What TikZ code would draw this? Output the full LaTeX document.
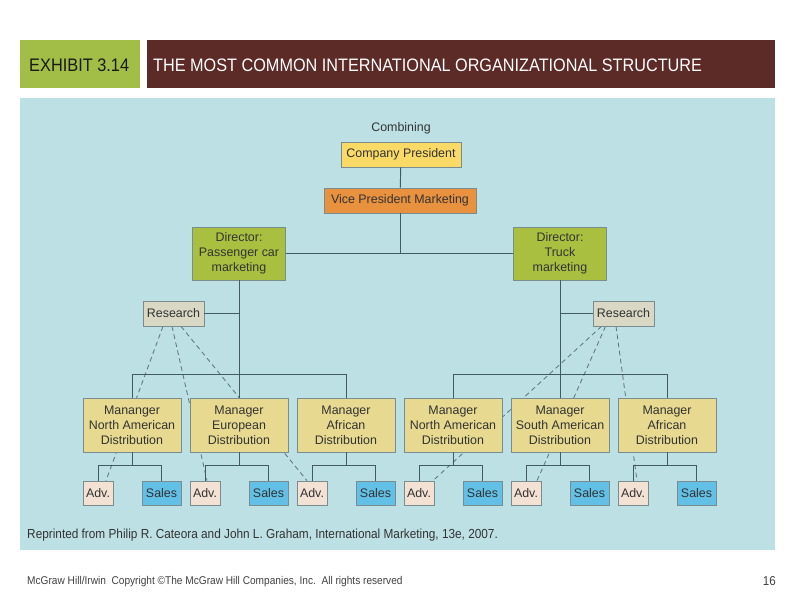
\documentclass[tikz,border=0pt]{standalone}
\usepackage{fontspec}
\setmainfont{Liberation Sans}
\newfontfamily\narrowfont[FakeStretch=0.9]{Liberation Sans}
\usetikzlibrary{positioning, calc}
\definecolor{panelblue}{HTML}{BCE0E3}
\definecolor{exhgreen}{HTML}{A2BE46}
\definecolor{titlered}{HTML}{5C2A27}
\definecolor{presyellow}{HTML}{F9DA66}
\definecolor{vporange}{HTML}{E8913F}
\definecolor{dirgreen}{HTML}{A8BF40}
\definecolor{resgray}{HTML}{D8D8C4}
\definecolor{mgrfill}{HTML}{E7D98F}
\definecolor{advfill}{HTML}{F3E1D4}
\definecolor{salesblue}{HTML}{62C0E6}
\definecolor{linkgray}{HTML}{3F5C62}
\definecolor{inkgray}{HTML}{333333}
\pgfdeclarelayer{backdrop}
\pgfdeclarelayer{links}
\pgfsetlayers{backdrop,links,main}

\begin{document}
\begin{tikzpicture}[x=0.3mm, y=-0.3mm,
  box/.style={draw=linkgray!70, line width=0.6pt, align=center, inner sep=0pt,
    text=inkgray, font=\fontsize{10.6}{12.8}\selectfont},
  mgr/.style={box, fill=mgrfill, minimum width=29.4mm, minimum height=16.2mm},
  adv/.style={box, fill=advfill, minimum width=9mm, minimum height=7.2mm},
  sales/.style={box, fill=salesblue, minimum width=11.7mm, minimum height=7.2mm},
  link/.style={draw=linkgray, line width=0.8pt},
  dashlink/.style={draw=linkgray!85, line width=0.7pt, dash pattern=on 4pt off 3pt}]
  \useasboundingbox (0,0) rectangle (800,600);
  % Header bars
  \fill[exhgreen] (20,40) rectangle (140,88);
  \fill[titlered] (147,40) rectangle (775,88);
  \node[anchor=west, inner sep=0pt, text=black!90, font=\narrowfont\fontsize{15.5}{18}\selectfont]
    (exh) at (29,65) {EXHIBIT 3.14};
  \node[anchor=west, inner sep=0pt, text=white, font=\narrowfont\fontsize{15.4}{18}\selectfont]
    (title) at (153,65) {THE MOST COMMON INTERNATIONAL ORGANIZATIONAL STRUCTURE};
  \begin{pgfonlayer}{backdrop}
    \fill[panelblue] (20,98) rectangle (775,550);
  \end{pgfonlayer}
  % Top of the chart
  \node[text=inkgray, inner sep=0pt, font=\fontsize{10.6}{12.8}\selectfont] (comb) at (401,128) {Combining};
  \node[box, fill=presyellow, minimum width=36mm, minimum height=7.5mm] (cp) at (401,154.5) {Company President};
  \node[box, fill=vporange, minimum width=45.6mm, minimum height=7.5mm] (vp) at (400,200.5) {Vice President Marketing};
  \node[box, fill=dirgreen, minimum width=27.9mm, minimum height=15.9mm] (dpc) at (239,253.5)
    {Director:\\Passenger car\\marketing};
  \node[box, fill=dirgreen, minimum width=27.9mm, minimum height=15.9mm] (dtr) at (560,253.5)
    {Director:\\Truck\\marketing};
  \node[box, fill=resgray, minimum width=18.3mm, minimum height=7.5mm] (lres) at (173.5,313.5) {Research};
  \node[box, fill=resgray, minimum width=18.3mm, minimum height=7.5mm] (rres) at (623.5,313.5) {Research};
  % Managers with their Adv. and Sales units
  \foreach \n/\xx/\txt in {1/132/{Mananger\\North American\\Distribution},
                           2/239/{Manager\\European\\Distribution},
                           3/346/{Manager\\African\\Distribution},
                           4/453/{Manager\\North American\\Distribution},
                           5/560/{Manager\\South American\\Distribution},
                           6/667/{Manager\\African\\Distribution}} {
    \node[mgr] (m\n) at (\xx,425) {\txt};
    \node[adv] (a\n) at (\xx-34,493) {Adv.};
    \node[sales] (s\n) at (\xx+29.5,493) {Sales};
    \coordinate (j\n) at ($(m\n.south)+(0,13)$);
    \draw[link] (m\n.south) -- (j\n);
    \draw[link] (a\n.north) |- (j\n) -| (s\n.north);
  }
  % Solid reporting lines
  \draw[link] (cp) -- (vp);
  \draw[link] (vp.south) -- (vp.south |- dpc.east);
  \draw[link] (dpc.east) -- (dtr.west);
  \draw[link] (dpc.south) -- (m2.north);
  \draw[link] (m1.north) -- ++(0,-23) -| (m3.north);
  \draw[link] (lres.east) -- (lres.east -| dpc.south);
  \draw[link] (dtr.south) -- (m5.north);
  \draw[link] (m4.north) -- ++(0,-23) -| (m6.north);
  \draw[link] (rres.west) -- (rres.west -| dtr.south);
  % Dashed research lines, passing behind the managers
  \begin{pgfonlayer}{links}
    \draw[dashlink] ([xshift=-3.15mm]lres.south) -- ([xshift=2.4mm]a1.north);
    \draw[dashlink] ([xshift=-0.45mm]lres.south) -- ([xshift=0.6mm]a2.north);
    \draw[dashlink] ([xshift=2.25mm]lres.south) -- ([xshift=-1.5mm]a3.north);
    \draw[dashlink] ([xshift=-6.6mm]rres.south) -- ([xshift=4.2mm]a4.north);
    \draw[dashlink] ([xshift=-5.4mm]rres.south) -- ([xshift=3.3mm]a5.north);
    \draw[dashlink] ([xshift=-2.25mm]rres.south) -- ([xshift=1.2mm]a6.north);
  \end{pgfonlayer}
  % Source and footer
  \node[anchor=west, inner sep=0pt, text=inkgray, font=\narrowfont\fontsize{11.2}{13}\selectfont]
    (src) at (27,535) {Reprinted from Philip R. Cateora and John L. Graham, International Marketing, 13e, 2007.};
  \node[anchor=west, inner sep=0pt, text=black!75, font=\narrowfont\fontsize{9.6}{11}\selectfont]
    (copy) at (27,582) {McGraw Hill/Irwin\ \ Copyright \textcopyright The McGraw Hill Companies, Inc.\ \ All rights reserved};
  \node[anchor=east, inner sep=0pt, text=black!75, font=\narrowfont\fontsize{11}{13}\selectfont]
    (page) at (776,581) {16};
\end{tikzpicture}
\end{document}
